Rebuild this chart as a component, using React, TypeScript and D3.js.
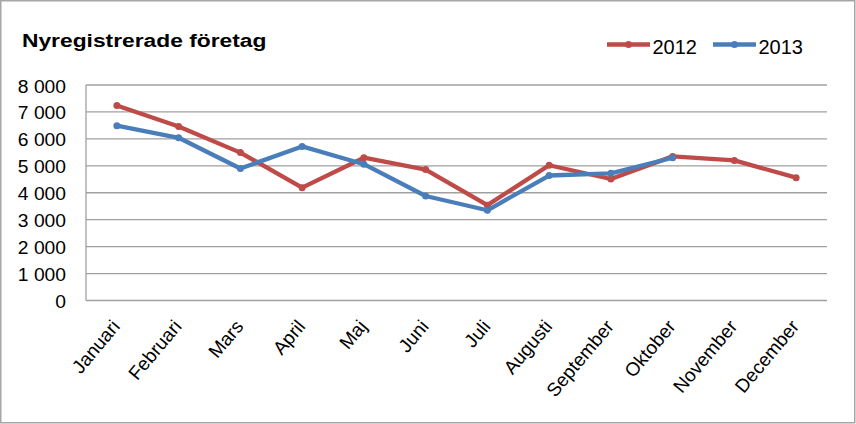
import React from "react";
import * as d3 from "d3";

const months = ["Januari","Februari","Mars","April","Maj","Juni","Juli","Augusti","September","Oktober","November","December"];
const values2012 = [7240, 6460, 5490, 4190, 5300, 4860, 3540, 5020, 4510, 5350, 5200, 4560];
const values2013 = [6490, 6040, 4900, 5720, 5060, 3880, 3350, 4640, 4720, 5300];
const yTicks = [0, 1000, 2000, 3000, 4000, 5000, 6000, 7000, 8000];
const seriesNames = ["2012", "2013"];
const colors = ["#BE4B48", "#4A7EBB"];

const W = 856, H = 424;
const left = 86, right = 827, top = 85, bottom = 300.5;

export default function App() {
  const x = d3.scaleBand<string>().domain(months).range([left, right]);
  const y = d3.scaleLinear().domain([0, 8000]).range([bottom, top]);
  const fmt = (v: number) => d3.format(",")(v).replace(/,/g, " ");
  const line = d3.line<number>().x((_, i) => x(months[i])! + x.bandwidth() / 2).y(d => y(d));
  const series = [values2012, values2013];
  const font = "'Liberation Sans', Arial, sans-serif";
  return (
    <svg width={W} height={H} style={{ position: "absolute", left: 0, top: 0 }} fontFamily={font}>
      <rect x={0.75} y={0.75} width={W - 2} height={H - 2} fill="#fff" stroke="#A6A6A6" strokeWidth={1.5} />
      <text x={0} y={0} fontSize={19} fontWeight="bold" fill="#000" transform="translate(22 47) scale(1.2 1)">Nyregistrerade företag</text>
      {yTicks.map(t => (
        <g key={t}>
          {t > 0 && <line x1={left} x2={right} y1={y(t)} y2={y(t)} stroke="#A0A0A0" strokeWidth={1.3} />}
          <text x={0} y={0} fontSize={18} textAnchor="end" fill="#000" transform={`translate(66 ${y(t) + 7.5}) scale(1.07 1)`}>{fmt(t)}</text>
        </g>
      ))}
      <line x1={left} x2={right} y1={bottom} y2={bottom} stroke="#A0A0A0" strokeWidth={1.3} />
      <line x1={left} x2={left} y1={top} y2={bottom} stroke="#A0A0A0" strokeWidth={1.3} />
      {months.map(m => {
        const cx = x(m)! + x.bandwidth() / 2 + 4;
        const cy = 327;
        return (
          <text key={m} x={cx} y={cy} fontSize={19} textAnchor="end" transform={`rotate(-50 ${cx} ${cy})`} fill="#000">{m}</text>
        );
      })}
      {series.map((s, k) => (
        <g key={k}>
          <path d={line(s)!} fill="none" stroke={colors[k]} strokeWidth={4.3} strokeLinejoin="round" />
          {s.map((v, i) => (
            <circle key={i} cx={x(months[i])! + x.bandwidth() / 2} cy={y(v)} r={3.5} fill={colors[k]} />
          ))}
        </g>
      ))}
      {seriesNames.map((n, k) => {
        const lx = 607 + k * 106;
        return (
          <g key={n}>
            <line x1={lx} x2={lx + 43} y1={44.5} y2={44.5} stroke={colors[k]} strokeWidth={4.3} />
            <circle cx={lx + 21.5} cy={44.5} r={3.5} fill={colors[k]} />
            <text x={lx + 45.5} y={54} fontSize={20} fill="#000">{n}</text>
          </g>
        );
      })}
    </svg>
  );
}
